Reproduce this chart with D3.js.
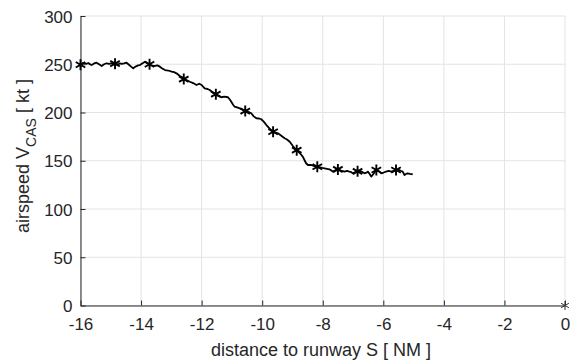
<!DOCTYPE html>
<html>
<head>
<meta charset="utf-8">
<script src="https://cdn.jsdelivr.net/npm/d3@7"></script>
<style>
  body { margin: 0; background: #fff; }
  svg { display: block; font-family: "Liberation Sans", Arial, sans-serif; }
</style>
</head>
<body>
<svg id="canvas"></svg>
<script>
// distance to runway [NM] and airspeed [kt]
let distance = [
  -16.0, -15.9, -15.82, -15.74, -15.68, -15.63, -15.55, -15.47, -15.4, -15.3, -15.22, -15.14, -15.05,
  -14.95, -14.86, -14.78, -14.7, -14.64, -14.56, -14.48, -14.4, -14.33, -14.26, -14.18, -14.1, -14.04,
  -13.95, -13.87, -13.8, -13.71, -13.62, -13.54, -13.46, -13.38, -13.3, -13.21, -13.1, -12.99, -12.91,
  -12.83, -12.72, -12.65, -12.59, -12.5, -12.39, -12.28, -12.17, -12.08, -12.0, -11.9, -11.82, -11.73,
  -11.63, -11.53, -11.45, -11.35, -11.25, -11.13, -11.07, -11.02, -10.96, -10.91, -10.83, -10.74,
  -10.65, -10.56, -10.46, -10.36, -10.28, -10.19, -10.1, -10.03, -9.95, -9.86, -9.76, -9.64, -9.56,
  -9.48, -9.38, -9.26, -9.18, -9.09, -8.98, -8.86, -8.76, -8.66, -8.6, -8.55, -8.49, -8.38, -8.3,
  -8.22, -8.12, -8.02, -7.94, -7.86, -7.78, -7.72, -7.67, -7.58, -7.5, -7.4, -7.28, -7.2, -7.12, -7.06,
  -7.01, -6.92, -6.84, -6.74, -6.62, -6.56, -6.51, -6.45, -6.4, -6.32, -6.24, -6.15, -6.07, -5.99,
  -5.91, -5.82, -5.74, -5.66, -5.58, -5.5, -5.43, -5.36, -5.3, -5.25, -5.2, -5.12, -5.03
];
let airspeed = [
  249.5, 251.5, 250.5, 251.2, 249.8, 249.2, 250.8, 251.6, 250.2, 248.2, 250.0, 251.0, 250.4,
  251.2, 250.3, 249.6, 250.8, 250.3, 250.9, 251.6, 249.5, 247.5, 245.8, 247.6, 248.8, 249.2,
  251.0, 252.6, 251.0, 249.2, 248.6, 248.2, 248.8, 247.5, 245.6, 244.0, 243.5, 242.3, 241.8,
  240.6, 237.8, 236.8, 234.4, 233.5, 231.9, 230.5, 228.5, 229.8, 228.5, 225.0, 224.4, 223.3,
  220.5, 218.9, 217.2, 215.8, 216.4, 215.8, 213.5, 211.2, 208.0, 206.0, 205.2, 204.3,
  203.0, 201.5, 200.6, 199.2, 196.0, 194.0, 193.8, 193.0, 190.5, 187.0, 183.6, 179.8, 179.2,
  178.4, 176.2, 173.3, 172.0, 169.7, 165.0, 160.8, 158.0, 154.2, 150.5, 147.4, 145.6, 145.6, 144.6,
  143.8, 143.4, 142.6, 142.1, 141.6, 141.1, 140.0, 138.7, 140.2, 141.1, 139.8, 138.7, 139.6, 138.7, 138.2,
  137.0, 138.4, 138.7, 139.0, 137.0, 137.6, 138.7, 136.2, 133.5, 136.5, 140.4, 139.2, 137.0, 137.8,
  138.7, 139.4, 138.7, 139.5, 140.4, 140.8, 139.6, 138.7, 135.2, 136.2, 137.0, 136.4, 136.0
];

// asterisk markers along the trace plus the one at the runway threshold
let markerDistance = [-16.0, -14.86, -13.72, -12.59, -11.53, -10.56, -9.64, -8.86, -8.18, -7.5, -6.85, -6.23, -5.58, 0];
let markerSpeed = [249.5, 250.6, 250.0, 234.6, 219.0, 201.5, 180.0, 161.0, 143.8, 141.0, 139.0, 140.4, 140.4, 0];

let xTicks = [-16, -14, -12, -10, -8, -6, -4, -2, 0];
let yTicks = [0, 50, 100, 150, 200, 250, 300];

let width = 577;
let height = 362;
let padLeft = 80.5;
let padRight = 565;
let padTop = 16;
let padBottom = 305.5;

let canvas = d3.select("#canvas").attr("width", width).attr("height", height);

let xScale = d3.scaleLinear().domain([-16, 0]).range([padLeft, padRight]);
let yScale = d3.scaleLinear().domain([0, 300]).range([padBottom, padTop]);

// grid
let grid = canvas.append("g");
grid.selectAll("line.gx")
  .data(xTicks)
  .enter()
  .append("line")
  .attr("x1", (d) => xScale(d))
  .attr("x2", (d) => xScale(d))
  .attr("y1", padTop)
  .attr("y2", padBottom)
  .attr("stroke", "#e3e3e3")
  .attr("stroke-width", 1);
grid.selectAll("line.gy")
  .data(yTicks)
  .enter()
  .append("line")
  .attr("x1", padLeft)
  .attr("x2", padRight)
  .attr("y1", (d) => yScale(d))
  .attr("y2", (d) => yScale(d))
  .attr("stroke", "#e3e3e3")
  .attr("stroke-width", 1);

// axes (plain hyphen for negatives, like the original)
let fmt = (d) => String(d);
let xAxis = d3.axisBottom(xScale).tickValues(xTicks).tickFormat(fmt)
  .tickSizeInner(-5).tickSizeOuter(0).tickPadding(10);
let yAxis = d3.axisLeft(yScale).tickValues(yTicks).tickFormat(fmt)
  .tickSizeInner(-5).tickSizeOuter(0).tickPadding(8);

let gx = canvas.append("g")
  .attr("transform", "translate(0, " + padBottom + ")")
  .call(xAxis);
let gy = canvas.append("g")
  .attr("transform", "translate(" + padLeft + ", 0)")
  .call(yAxis);

[gx, gy].forEach((g) => {
  g.select(".domain").attr("stroke", "#262626").attr("stroke-width", 1);
  g.selectAll(".tick line").attr("stroke", "#262626");
  g.selectAll(".tick text")
    .attr("fill", "#262626")
    .style("font-size", "17px")
    .style("font-family", "Liberation Sans, Arial, sans-serif");
});
gx.selectAll(".tick text").attr("dy", "0.85em");
gy.selectAll(".tick text").attr("dy", "0.36em");

// trace
let points = distance.map((d, i) => [d, airspeed[i]]);
let line = d3.line()
  .x((d) => xScale(d[0]))
  .y((d) => yScale(d[1]));

canvas.append("path")
  .datum(points)
  .attr("d", line)
  .attr("fill", "none")
  .attr("stroke", "#000")
  .attr("stroke-width", 1.8)
  .attr("stroke-linejoin", "round");

// asterisks
let star = (s) => {
  let a = s * 0.866, b = s * 0.5;
  return "M0," + -s + "V" + s +
    "M" + -a + "," + -b + "L" + a + "," + b +
    "M" + -a + "," + b + "L" + a + "," + -b;
};
let last = markerDistance.length - 1;
canvas.selectAll("path.marker")
  .data(markerDistance)
  .enter()
  .append("path")
  .attr("class", "marker")
  .attr("transform", (d, i) => "translate(" + xScale(d) + "," + yScale(markerSpeed[i]) + ")")
  .attr("d", (d, i) => star(i === last ? 4.5 : 5.5))
  .attr("stroke", (d, i) => i === last ? "#333" : "#000")
  .attr("stroke-width", (d, i) => i === last ? 1 : 1.9)
  .attr("fill", "none");

// labels
canvas.append("text")
  .attr("x", 321)
  .attr("y", 356)
  .attr("text-anchor", "middle")
  .attr("fill", "#262626")
  .style("font-size", "18px")
  .text("distance to runway S [ NM ]");

let ylab = canvas.append("text")
  .attr("transform", "translate(29, 156) rotate(-90)")
  .attr("text-anchor", "middle")
  .attr("fill", "#262626")
  .style("font-size", "18px");
ylab.append("tspan").text("airspeed V");
ylab.append("tspan").attr("dy", 7).style("font-size", "14px").text("CAS");
ylab.append("tspan").attr("dy", -7).text(" [ kt ]");
</script>
</body>
</html>
